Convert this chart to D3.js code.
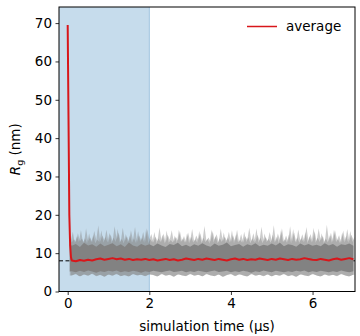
<!DOCTYPE html>
<html>
<head>
<meta charset="utf-8">
<script src="https://cdn.jsdelivr.net/npm/d3@7"></script>
<style>
  body { margin: 0; background: #fff; }
  svg text { font-family: "DejaVu Sans", sans-serif; fill: #000; }
</style>
</head>
<body>
<svg id="chart" width="360" height="336"></svg>
<script>
// Rg traces (nm) vs simulation time (us)
const xTicks = [0, 2, 4, 6];
const yTicks = [0, 10, 20, 30, 40, 50, 60, 70];
const equilEnd = 2;        // shaded equilibration window ends here
const refLevel = 8.0;      // dashed reference line

// spike envelope of the gray traces, every 0.05 us from 0.05
const upperOuter = [
  14.5, 12.8, 13.6, 12.9, 15.2, 13.1, 13.8, 12.7, 16.4, 13.2, 14.1, 12.9, 15.8, 13.4, 17.2, 13.0, 14.6, 13.3, 16.1, 12.8,
  14.9, 13.1, 17.0, 13.5, 15.3, 12.9, 16.6, 13.2, 14.4, 13.0, 15.9, 13.4, 16.8, 12.9, 14.7, 13.3, 15.5, 13.0, 16.2, 13.6,
  15.0, 12.8, 14.3, 13.2, 16.7, 13.0, 15.1, 12.7, 14.8, 13.5, 16.0, 12.9, 14.2, 13.3, 15.7, 13.1, 14.5, 12.8, 15.4, 13.2,
  16.3, 13.0, 14.6, 13.4, 15.2, 12.9, 17.1, 13.2, 14.1, 13.0, 15.8, 13.5, 14.9, 12.8, 16.4, 13.1, 14.3, 13.3, 15.6, 12.9,
  14.7, 13.2, 16.1, 13.0, 15.0, 12.8, 14.4, 13.4, 16.6, 13.1, 15.2, 12.9, 14.8, 13.3, 16.9, 13.0, 14.2, 13.2, 15.5, 13.1,
  17.3, 13.0, 15.1, 13.4, 16.5, 12.9, 14.6, 13.2, 17.0, 13.1, 15.4, 12.8, 16.2, 13.3, 14.9, 13.0, 16.8, 13.2, 15.0, 12.9,
  15.7, 13.1, 16.4, 13.3, 14.5, 12.9, 17.4, 13.2, 15.3, 13.0, 16.0, 13.4, 14.7, 12.8, 15.9, 13.1, 16.3, 13.2, 14.8, 13.5
];
// second trace's spike envelope, every 0.05 us from 0.075
const upperOuter2 = [
  13.2, 15.6, 12.6, 14.4, 12.9, 16.0, 12.7, 13.9, 12.5, 15.1, 12.8, 14.7, 12.6, 13.5, 12.9, 15.9, 12.7, 14.2, 12.8, 15.3,
  12.6, 14.0, 12.9, 16.3, 12.7, 13.7, 12.5, 15.0, 12.8, 14.6, 12.7, 13.8, 12.6, 15.7, 12.9, 14.1, 12.7, 16.5, 12.6, 13.6,
  12.8, 15.5, 12.6, 13.9, 12.9, 14.8, 12.5, 15.9, 12.7, 13.4, 12.8, 14.6, 12.6, 16.1, 12.9, 13.8, 12.7, 15.2, 12.6, 14.3,
  12.8, 13.6, 12.7, 15.8, 12.6, 14.0, 12.9, 13.7, 12.5, 16.2, 12.8, 14.5, 12.6, 13.9, 12.9, 15.4, 12.7, 14.1, 12.8, 16.0,
  12.6, 14.9, 12.8, 13.5, 12.7, 15.6, 12.9, 14.2, 12.6, 13.8, 12.8, 16.4, 12.7, 14.0, 12.6, 15.1, 12.9, 13.7, 12.7, 14.8,
  12.8, 14.3, 12.6, 15.9, 12.9, 13.6, 12.7, 14.9, 12.6, 16.3, 12.8, 14.1, 12.7, 13.9, 12.9, 15.5, 12.6, 14.4, 12.8, 16.6,
  12.7, 14.0, 12.9, 15.2, 12.6, 13.8, 12.8, 14.7, 12.7, 16.1, 12.9, 13.6, 12.6, 15.3, 12.8, 14.5, 12.7, 15.8, 12.9, 14.2
];
// lower fringe, every 0.1 us from 0.1
const lowerOuter = [
  4.2, 4.6, 3.9, 4.5, 4.1, 4.7, 4.0, 4.4, 3.8, 4.5,
  4.1, 4.6, 4.0, 4.3, 3.9, 4.6, 4.2, 4.4, 4.0, 4.5,
  4.3, 3.9, 4.6, 4.1, 4.4, 3.8, 4.5, 4.2, 4.0, 4.6,
  4.1, 4.4, 3.9, 4.6, 4.2, 4.0, 4.5, 3.8, 4.3, 4.6,
  4.0, 4.5, 4.2, 3.9, 4.6, 4.1, 4.4, 4.0, 4.5, 3.9,
  4.4, 4.1, 4.6, 4.0, 4.3, 3.8, 4.5, 4.2, 4.0, 4.6,
  4.2, 3.9, 4.5, 4.1, 4.4, 4.0, 4.6, 4.2, 3.9, 4.4
];
// dense core of the traces, every 0.1 us from 0.1
const upperCore = [
  11.9, 12.4, 11.6, 12.7, 12.0, 12.3, 11.7, 12.5, 11.8, 12.2,
  12.6, 11.8, 12.3, 11.6, 12.8, 12.0, 11.7, 12.4, 11.9, 12.3,
  11.8, 12.5, 12.0, 11.6, 12.4, 12.1, 12.7, 11.8, 12.2, 11.7,
  12.3, 11.9, 12.6, 12.0, 11.7, 12.5, 11.9, 12.2, 12.8, 11.8,
  12.1, 12.4, 11.7, 12.3, 12.0, 12.6, 11.8, 12.2, 11.9, 12.5,
  12.0, 12.7, 11.8, 12.3, 12.1, 11.7, 12.5, 12.0, 12.4, 11.9,
  12.2, 11.8, 12.6, 12.0, 12.4, 11.7, 12.3, 12.1, 12.5, 11.9
];
const lowerCore = [
  5.3, 5.0, 5.4, 5.1, 5.5, 5.2, 4.9, 5.3, 5.1, 5.4,
  5.2, 5.5, 5.0, 5.3, 5.1, 5.4, 5.2, 4.9, 5.3, 5.1,
  5.4, 5.2, 5.0, 5.3, 5.5, 5.1, 5.2, 5.4, 5.0, 5.3,
  5.1, 5.4, 5.2, 5.0, 5.3, 5.5, 5.1, 5.2, 5.4, 5.0,
  5.3, 5.1, 5.4, 5.2, 4.9, 5.3, 5.1, 5.5, 5.2, 5.0,
  5.4, 5.2, 5.0, 5.3, 5.1, 5.4, 5.2, 5.5, 5.0, 5.3,
  5.1, 5.4, 5.2, 5.0, 5.3, 5.1, 5.5, 5.2, 5.0, 5.3
];
// average trace: initial collapse, then every 0.1 us from 0.1
const avgStartT = [0.0, 0.02, 0.04, 0.06, 0.08];
const avgStartV = [69.5, 45.0, 20.0, 12.0, 9.0];
const avgValues = [
  8.1, 7.9, 8.2, 8.0, 8.3, 8.1, 8.4, 8.6, 8.3, 8.5,
  8.7, 8.4, 8.6, 8.3, 8.5, 8.2, 8.4, 8.3, 8.5, 8.2,
  8.4, 8.1, 8.3, 8.5, 8.2, 8.4, 8.1, 8.3, 8.6, 8.4,
  8.2, 8.5, 8.3, 8.6, 8.4, 8.2, 8.5, 8.3, 8.1, 8.4,
  8.6, 8.3, 8.5, 8.2, 8.4, 8.3, 8.6, 8.4, 8.2, 8.5,
  8.3, 8.6, 8.4, 8.2, 8.5, 8.3, 8.4, 8.7, 8.5, 8.3,
  8.2, 8.5, 8.3, 8.1, 8.4, 8.6, 8.3, 8.5, 8.7, 8.4
];

const margin = { left: 59, right: 5, top: 7, bottom: 44.5 };
const W = 360, H = 336;
const svg = d3.select('#chart');

const x = d3.scaleLinear().domain([-0.213, 7.04]).range([margin.left, W - margin.right]);
const y = d3.scaleLinear().domain([0, 74.2]).range([H - margin.bottom, margin.top]);

// linear lookup into an evenly spaced array
const lookup = (arr, step, t0) => t => {
  const i = (t - t0) / step;
  const i0 = Math.max(0, Math.min(arr.length - 1, Math.floor(i)));
  const i1 = Math.min(arr.length - 1, i0 + 1);
  const f = Math.max(0, Math.min(1, i - i0));
  return arr[i0] * (1 - f) + arr[i1] * f;
};
const lowAt = lookup(lowerOuter, 0.1, 0.1);

svg.append('defs').append('clipPath').attr('id', 'plot-clip').append('rect')
  .attr('x', margin.left).attr('y', margin.top)
  .attr('width', W - margin.left - margin.right)
  .attr('height', H - margin.top - margin.bottom);

const plot = svg.append('g').attr('clip-path', 'url(#plot-clip)');

// shaded equilibration window
plot.append('rect')
  .attr('x', x(-1)).attr('y', margin.top)
  .attr('width', x(equilEnd) - x(-1))
  .attr('height', H - margin.top - margin.bottom)
  .attr('fill', 'rgb(198,220,236)');
plot.append('line')
  .attr('x1', x(equilEnd)).attr('x2', x(equilEnd))
  .attr('y1', margin.top).attr('y2', H - margin.bottom)
  .attr('stroke', 'rgb(160,196,224)').attr('stroke-width', 1);

// dashed reference line
plot.append('line')
  .attr('x1', margin.left).attr('x2', W - margin.right)
  .attr('y1', y(refLevel)).attr('y2', y(refLevel))
  .attr('stroke', '#000').attr('stroke-width', 1)
  .attr('stroke-dasharray', '4,2.5');

const band = d3.area().x(d => x(d.t)).y0(d => y(d.lo)).y1(d => y(d.hi));

// two spiky envelopes, semi transparent so their overlap reads denser
[[upperOuter, 0.05], [upperOuter2, 0.075]].forEach(([arr, t0]) => {
  const pts = arr.map((v, i) => {
    const t = t0 + i * 0.05;
    return { t, hi: v, lo: lowAt(t) };
  });
  plot.append('path').datum(pts)
    .attr('fill', '#808080').attr('fill-opacity', 0.4)
    .attr('d', band);
});

// dense core
const corePts = upperCore.map((v, i) => ({ t: 0.1 + i * 0.1, hi: v, lo: lowerCore[i] }));
corePts.unshift({ t: 0.05, hi: 12.5, lo: 5.2 });
plot.append('path').datum(corePts)
  .attr('fill', '#828282')
  .attr('d', band);

// average line
const avgPts = avgStartT.map((t, i) => ({ t, v: avgStartV[i] }))
  .concat(avgValues.map((v, i) => ({ t: 0.1 + i * 0.1, v })));
plot.append('path').datum(avgPts)
  .attr('fill', 'none').attr('stroke', '#d8161a').attr('stroke-width', 2)
  .attr('stroke-linejoin', 'round')
  .attr('d', d3.line().x(d => x(d.t)).y(d => y(d.v)));

// axes
const fs = '13.5px';
const xAxis = svg.append('g')
  .attr('transform', `translate(0,${H - margin.bottom})`)
  .call(d3.axisBottom(x).tickValues(xTicks).tickSize(3.5).tickPadding(3.5).tickFormat(d3.format('d')));
const yAxis = svg.append('g')
  .attr('transform', `translate(${margin.left},0)`)
  .call(d3.axisLeft(y).tickValues(yTicks).tickSize(3.5).tickPadding(3.5).tickFormat(d3.format('d')));
[xAxis, yAxis].forEach(a => {
  a.select('.domain').remove();
  a.selectAll('text').style('font-size', fs).attr('fill', '#000');
  a.selectAll('line').attr('stroke', '#000').attr('stroke-width', 0.8);
});

// frame
svg.append('rect')
  .attr('x', margin.left).attr('y', margin.top)
  .attr('width', W - margin.left - margin.right)
  .attr('height', H - margin.top - margin.bottom)
  .attr('fill', 'none').attr('stroke', '#000').attr('stroke-width', 1);

// labels
svg.append('text')
  .attr('x', (margin.left + W - margin.right) / 2).attr('y', 331)
  .attr('text-anchor', 'middle').style('font-size', fs)
  .text('simulation time (μs)');

const yl = svg.append('text')
  .attr('transform', `translate(20,${(margin.top + H - margin.bottom) / 2}) rotate(-90)`)
  .attr('text-anchor', 'middle').style('font-size', fs);
yl.append('tspan').style('font-style', 'italic').text('R');
yl.append('tspan').attr('dy', 3).style('font-size', '9.5px').text('g');
yl.append('tspan').attr('dy', -3).text(' (nm)');

// legend
const lg = svg.append('g');
lg.append('line')
  .attr('x1', 247).attr('x2', 277).attr('y1', 26.5).attr('y2', 26.5)
  .attr('stroke', '#d8161a').attr('stroke-width', 1.5);
lg.append('text')
  .attr('x', 286).attr('y', 31).style('font-size', fs)
  .text('average');
</script>
</body>
</html>
